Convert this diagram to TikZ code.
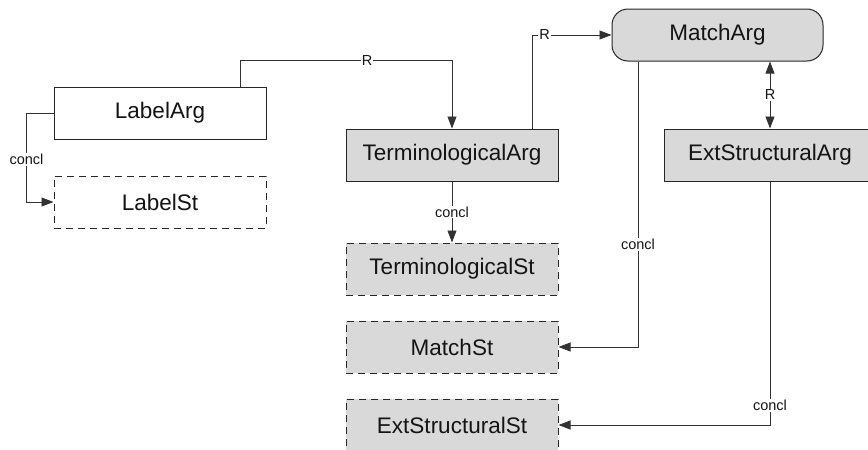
\documentclass[tikz,border=0pt]{standalone}
\usepackage{fontspec}
\setmainfont{Liberation Sans}
\usetikzlibrary{arrows.meta}

\definecolor{boxGray}{RGB}{217,217,217}
\definecolor{lineGray}{RGB}{50,50,50}
\definecolor{textGray}{RGB}{20,20,20}

\begin{document}
\begin{tikzpicture}[x=1pt, y=-1pt,
		argBox/.style={draw=black!85, line width=1pt, rectangle, minimum width=212pt, minimum height=52pt, inner sep=0pt, text=textGray, font=\fontsize{22.5}{26}\selectfont},
		stBox/.style={argBox, dash pattern=on 7pt off 5pt},
		shaded/.style={fill=boxGray},
		tip/.tip={Triangle[length=12pt,width=9pt]},
		conn/.style={draw=lineGray, line width=0.8pt, -tip},
		lbl/.style={fill=white, inner sep=1pt, text=textGray, font=\fontsize{14.5}{16}\selectfont}]
		\def\colX{452} % x of the middle column
		\def\kneeShift{80pt} % offset of the R arrows on the box tops
		
		% Fix the page to the reference size
		\useasboundingbox (0,0) rectangle (868,450);
		\clip (0,0) rectangle (868,450);
		
		% Argument boxes
		\node[argBox, fill=white] (labelArg) at (160,113) {LabelArg};
		\node[argBox, shaded] (termArg) at (\colX,155) {TerminologicalArg};
		\node[argBox, shaded, rounded corners=16pt, minimum width=211pt] (matchArg) at (717.5,35) {MatchArg};
		\node[argBox, shaded] (extArg) at (770,155) {ExtStructuralArg};
		
		% Statement boxes
		\node[stBox, fill=white] (labelSt) at (160,202) {LabelSt};
		\node[stBox, shaded] (termSt) at (\colX,269) {TerminologicalSt};
		\node[stBox, shaded] (matchSt) at (\colX,347) {MatchSt};
		\node[stBox, shaded] (extSt) at (\colX,425) {ExtStructuralSt};
		
		% R links
		\draw[conn] ([xshift=\kneeShift]labelArg.north) -- ++(0,-26) -| node[lbl, pos=0.3] {R} (termArg.north);
		\draw[conn] ([xshift=\kneeShift]termArg.north) |- node[lbl, pos=0.58] {R} (matchArg.west);
		\draw[conn, tip-tip] ([xshift=52.5pt]matchArg.south) -- node[lbl] {R} (extArg.north);
		
		% concl links
		\draw[conn] (labelArg.west) -- ++(-27,0) |- node[lbl, pos=0.26] {concl} (labelSt.west);
		\draw[conn] (termArg.south) -- node[lbl] {concl} (termSt.north);
		\draw[conn] ([xshift=-79.5pt]matchArg.south) |- node[lbl, pos=0.32] {concl} (matchSt.east);
		\draw[conn] (extArg.south) |- node[lbl, pos=0.46] {concl} (extSt.east);
	\end{tikzpicture}
\end{document}
